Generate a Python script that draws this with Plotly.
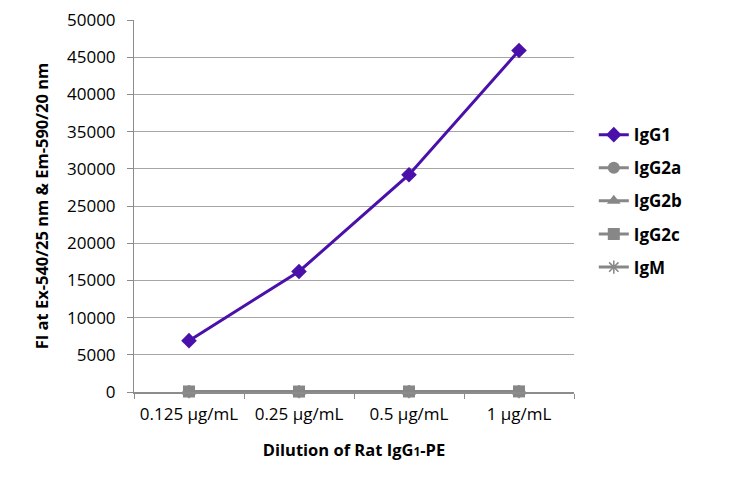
import plotly.graph_objects as go

categories = ["0.125 µg/mL", "0.25 µg/mL", "0.5 µg/mL", "1 µg/mL"]
igg1 = [6900, 16200, 29200, 45900]
igg2a = [60, 50, 60, 70]
igg2b = [50, 40, 50, 60]
igg2c = [70, 60, 70, 80]
igm = [40, 40, 50, 50]
y_ticks = list(range(0, 50001, 5000))
y_ticktext = [str(v) for v in y_ticks]

purple = "#4a10aa"
gray = "#878787"
font = "Open Sans"

fig = go.Figure()

def add(name, vals, color, symbol, size, rank):
    fig.add_trace(go.Scatter(
        x=categories, y=vals, name=name, mode="lines+markers",
        line=dict(color=color, width=3),
        marker=dict(symbol=symbol, size=size, color=color,
                    line=dict(width=1.5 if symbol == "asterisk" else 0, color=color)),
        legendrank=rank, legendgroup=name, cliponaxis=False,
    ))

add("IgM", igm, gray, "asterisk", 11, 5)
add("IgG2b", igg2b, gray, "triangle-up", 12, 3)
add("IgG2a", igg2a, gray, "circle", 12, 2)
add("IgG2c", igg2c, gray, "square", 12, 4)
add("IgG1", igg1, purple, "diamond", 12, 1)

fig.update_layout(
    width=722, height=470,
    margin=dict(l=126, r=156, t=12, b=86, autoexpand=False),
    paper_bgcolor="white", plot_bgcolor="white",
    font=dict(family=font, size=17, color="black"),
    legend=dict(x=1.045, y=0.739, xanchor="left", yanchor="top",
                font=dict(family=font, size=17, color="black", weight="bold"),
                traceorder="grouped", tracegroupgap=8, itemwidth=30),
    xaxis=dict(type="category", tickson="boundaries", ticks="outside", ticklen=5,
               tickcolor="#8c8c8c", showline=True, linecolor="#8c8c8c", linewidth=1.5,
               showgrid=False, range=[-0.5, 3.5], automargin=False,
               ticklabelstandoff=6, ticklabeloverflow="allow",
               tickfont=dict(family=font, size=17),
               title=dict(text="Dilution of Rat IgG<span style='font-size:12px'>1</span>-PE",
                          font=dict(family=font, size=16.5, weight="bold"), standoff=20)),
    yaxis=dict(range=[0, 50000], tickvals=y_ticks, ticktext=y_ticktext,
               ticks="outside", ticklen=6, automargin=False, ticklabelstandoff=8,
               ticklabeloverflow="allow",
               tickcolor="#8c8c8c", showline=True, linecolor="#8c8c8c", linewidth=1,
               showgrid=True, gridcolor="#a6a6a6", gridwidth=1, zeroline=False,
               tickfont=dict(family=font, size=17),
               title=dict(text="FI at Ex-540/25 nm & Em-590/20 nm",
                          font=dict(family=font, size=16.5, weight="bold"), standoff=14)),
)

fig.write_html("out.html")
